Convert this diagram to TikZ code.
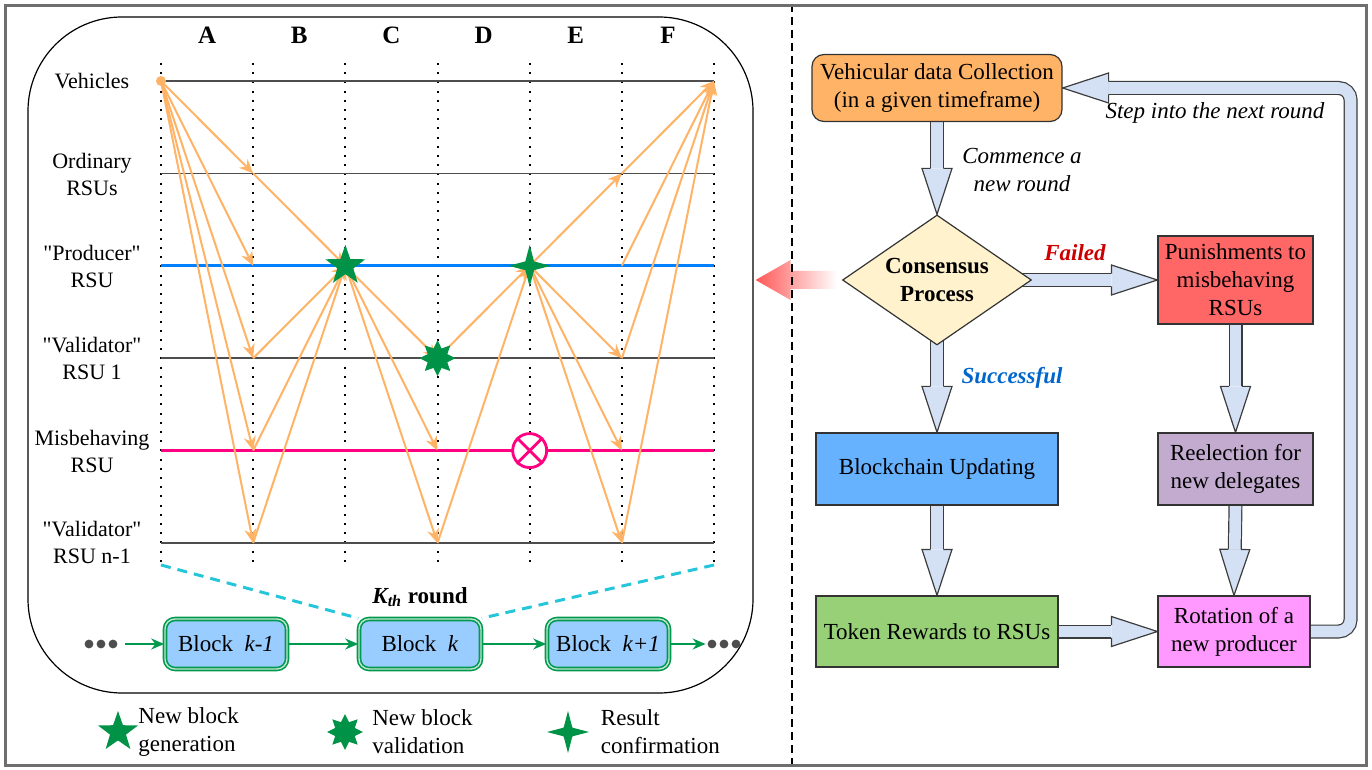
\documentclass[tikz,border=0pt]{standalone}
\usepackage{fontspec}
\setmainfont{Liberation Serif}
\usepackage{tikz}
\usetikzlibrary{positioning,arrows.meta,shapes.geometric,calc,backgrounds}
\definecolor{flowOrange}{RGB}{255,179,102}
\definecolor{starGreen}{RGB}{0,146,71}
\definecolor{prodBlue}{RGB}{0,127,255}
\definecolor{misMagenta}{RGB}{255,0,128}
\definecolor{gridGray}{RGB}{77,77,77}
\definecolor{blockFill}{RGB}{153,204,255}
\definecolor{blockGreen}{RGB}{0,153,77}
\definecolor{roundCyan}{RGB}{38,198,218}
\definecolor{dotGray}{RGB}{77,77,77}
\definecolor{fatFill}{RGB}{212,225,245}
\definecolor{fatLine}{RGB}{60,60,60}
\definecolor{collectOrange}{RGB}{255,179,102}
\definecolor{consYellow}{RGB}{255,242,204}
\definecolor{punRed}{RGB}{255,102,102}
\definecolor{updBlue}{RGB}{102,178,255}
\definecolor{reelPurple}{RGB}{195,171,208}
\definecolor{tokGreen}{RGB}{151,208,119}
\definecolor{rotPink}{RGB}{255,153,255}
\definecolor{failRed}{RGB}{204,0,0}
\definecolor{succBlue}{RGB}{0,102,204}
\definecolor{frameGray}{RGB}{110,110,110}

\newcommand{\fathead}[2]{%
  \filldraw[fill=fatFill, draw=fatLine, line width=0.6pt]
    ($(#1)!3.2pt!90:(#2)$) -- ($(#1)!7.5pt!90:(#2)$) -- (#2)
    -- ($(#1)!7.5pt!-90:(#2)$) -- ($(#1)!3.2pt!-90:(#2)$);
}
\newcommand{\fatarrow}[2]{%
  \coordinate (fa-h) at ($(#2)!23pt!(#1)$);
  \draw[line width=7pt, fatLine] (#1) -- (fa-h);
  \draw[line width=5.8pt, fatFill] (#1) -- (fa-h);
  \fathead{fa-h}{#2}
}

\begin{document}
\begin{tikzpicture}[x=0.5pt, y=-0.5pt,
    rowlab/.style={align=center, inner sep=0pt, font=\fontsize{11}{13.5}\selectfont},
    collab/.style={inner sep=0pt, font=\fontsize{12.5}{15}\selectfont\bfseries},
    colline/.style={line width=1pt, dash pattern=on 1pt off 3.6pt},
    rowline/.style={gridGray, line width=0.7pt},
    flow/.style={flowOrange, line width=1pt, -{Stealth[length=7pt,width=6pt]}},
    genstar/.style={star, star points=5, star point ratio=2.5, fill=starGreen,
                    minimum size=21pt, inner sep=0pt},
    valstar/.style={star, star points=8, star point ratio=1.7, fill=starGreen,
                    minimum size=18pt, inner sep=0pt},
    confstar/.style={star, star points=4, star point ratio=3.4, fill=starGreen,
                     minimum size=21pt, inner sep=0pt},
    block/.style={draw=blockGreen, double=blockGreen!25, double distance=0.7pt,
                  line width=0.8pt, fill=blockFill, rounded corners=5pt,
                  minimum width=61pt, minimum height=25pt,
                  font=\fontsize{11.5}{14}\selectfont},
    chain/.style={blockGreen, line width=0.9pt, -{Stealth[length=6.5pt,width=5.5pt]}},
    zoomline/.style={roundCyan, line width=1.5pt, dash pattern=on 5pt off 3.5pt},
    legtext/.style={align=left, inner sep=0pt, font=\fontsize{11.5}{14}\selectfont},
    flowbox/.style={draw=black!80, line width=0.6pt, align=center, inner sep=2pt,
                    font=\fontsize{11.5}{14}\selectfont},
    note/.style={align=center, inner sep=0pt, font=\fontsize{11.5}{14}\selectfont\itshape}
]
    \useasboundingbox (0,0) rectangle (1372,770);

    \node[draw, line width=0.6pt, rounded corners=47pt, minimum width=362.5pt,
          minimum height=338pt, inner sep=0pt] (panel) at (390.5,355) {};

    \foreach \i in {1,...,7} {
        \coordinate (col-\i-top) at ({161+92.17*(\i-1)},63);
        \coordinate (col-\i-bot) at ({161+92.17*(\i-1)},565);
        \draw[colline] (col-\i-top) -- (col-\i-bot);
        \foreach \j in {1,...,6}
            \coordinate (g-\i-\j) at ({161+92.17*(\i-1)},{81+92.4*(\j-1)});
    }
    \foreach \l [count=\i] in {A,...,F}
        \node[collab] (head-\l) at ({161+92.17*(\i-0.5)},35) {\l};

    \draw[rowline] (g-1-1) -- (g-7-1);
    \draw[rowline] (g-1-2) -- (g-7-2);
    \draw[prodBlue, line width=1.4pt] (g-1-3) -- (g-7-3);
    \draw[rowline] (g-1-4) -- (g-7-4);
    \draw[misMagenta, line width=1.4pt] (g-1-5) -- (g-7-5);
    \draw[rowline] (g-1-6) -- (g-7-6);

    \node[rowlab] (lab-veh) at (92,81) {Vehicles};
    \node[rowlab] (lab-ord) at (92,174) {Ordinary\\RSUs};
    \node[rowlab] (lab-prod) at (92,266) {\textquotedbl Producer\textquotedbl\\RSU};
    \node[rowlab] (lab-val) at (92,358) {\textquotedbl Validator\textquotedbl\\RSU 1};
    \node[rowlab] (lab-mis) at (92,451) {Misbehaving\\RSU};
    \node[rowlab] (lab-valn) at (92,542) {\textquotedbl Validator\textquotedbl\\RSU n-1};

    \foreach \a/\b in {1-1/2-2, 1-1/2-3, 1-1/2-4, 1-1/2-5, 1-1/2-6,
                       2-2/3-3, 2-4/3-3, 2-5/3-3, 2-6/3-3,
                       3-3/4-4, 3-3/4-5, 3-3/4-6,
                       4-4/5-3, 4-6/5-3,
                       5-3/6-2, 5-3/6-4, 5-3/6-5, 5-3/6-6,
                       6-2/7-1, 6-3/7-1, 6-4/7-1, 6-6/7-1}
        \draw[flow] (g-\a) -- (g-\b);

    \node[circle, fill=flowOrange, minimum size=5pt, inner sep=0pt] (veh) at (g-1-1) {};
    \node[genstar] (gen) at (g-3-3) {};
    \node[valstar] (val) at (g-4-4) {};
    \node[confstar] (conf) at (g-5-3) {};
    \node[circle, draw=misMagenta, line width=1.4pt, fill=white, minimum size=17pt,
          inner sep=0pt] (bad) at (g-5-5) {};
    \draw[misMagenta, line width=1.4pt] (bad.45) -- (bad.225) (bad.135) -- (bad.315);

    \node[block] (blk-prev) at (226,644) {Block\enspace\textit{k-1}};
    \node[block] (blk-cur) at (420,644) {Block\enspace\textit{k}};
    \node[block] (blk-next) at (608,644) {Block\enspace\textit{k+1}};
    \node[inner sep=0pt, minimum width=16pt, minimum height=5pt] (dots-l) at (101,644) {};
    \node[inner sep=0pt, minimum width=16pt, minimum height=5pt] (dots-r) at (724,644) {};
    \foreach \d in {-12,0,12} {
        \fill[dotGray] ($(dots-l)+(\d,0)$) circle (2.2pt);
        \fill[dotGray] ($(dots-r)+(\d,0)$) circle (2.2pt);
    }
    \draw[chain, shorten <=4pt] (dots-l) -- (blk-prev);
    \draw[chain] (blk-prev) -- (blk-cur);
    \draw[chain] (blk-cur) -- (blk-next);
    \draw[chain, shorten >=1pt] (blk-next) -- (dots-r);
    \node[font=\fontsize{11.5}{14}\selectfont\bfseries] (kth) at (420,597)
        {\textit{K\textsubscript{th}} round};
    \draw[zoomline] (col-1-bot) -- (blk-cur.north west);
    \draw[zoomline] (col-7-bot) -- (blk-cur.north east);

    \node[genstar] (leg-gen) at (118,732) {};
    \node[legtext, right=4pt of leg-gen] (leg-gen-t) {New block\\generation};
    \node[valstar] (leg-val) at (345,732) {};
    \node[legtext, right=4pt of leg-val] (leg-val-t) {New block\\validation};
    \node[confstar] (leg-conf) at (568,732) {};
    \node[legtext, right=5pt of leg-conf] (leg-conf-t) {Result\\confirmation};

    \node[flowbox, fill=collectOrange, rounded corners=6pt, minimum width=125pt,
          minimum height=33.5pt] (collect) at (937,88)
          {Vehicular data Collection\\(in a given timeframe)};
    \node[diamond, aspect=1.45, draw=black!80, line width=0.6pt, fill=consYellow,
          minimum width=94.5pt, minimum height=65pt, inner sep=0pt, align=center,
          font=\fontsize{11.5}{14}\selectfont\bfseries] (cons) at (937,280)
          {Consensus\\Process};
    \node[flowbox, fill=punRed, minimum width=77.5pt, minimum height=44pt] (pun)
          at (1235.5,280) {Punishments to\\misbehaving\\RSUs};
    \node[flowbox, fill=updBlue, minimum width=121pt, minimum height=36pt] (upd)
          at (937,469) {Blockchain Updating};
    \node[flowbox, fill=reelPurple, minimum width=77.5pt, minimum height=36pt] (reel)
          at (1235.5,469) {Reelection for\\new delegates};
    \node[flowbox, fill=tokGreen, minimum width=121pt, minimum height=35.5pt] (tok)
          at (937,631.5) {Token Rewards to RSUs};
    \node[flowbox, fill=rotPink, minimum width=76pt, minimum height=35.5pt] (rot)
          at (1234,631.5) {Rotation of a\\new producer};

    \begin{scope}[on background layer]
        \coordinate (cons-s) at ($(cons.south)+(0,-10)$);
        \coordinate (cons-e) at ($(cons.east)+(-12,0)$);
        \fatarrow{collect.south}{cons.north}
        \fatarrow{cons-e}{pun.west}
        \fatarrow{cons-s}{upd.north}
        \fatarrow{pun.south}{reel.north}
        \fatarrow{upd.south}{tok.north}
        \fatarrow{reel.south}{rot.north}
        \fatarrow{tok.east}{rot.west}
        \coordinate (loop-h) at ($(collect.east)+(46,0)$);
        \draw[line width=7pt, fatLine, rounded corners=6pt] (rot.east) -- ++(40,0) |- (loop-h);
        \draw[line width=5.8pt, fatFill, rounded corners=6pt] (rot.east) -- ++(40,0) |- (loop-h);
        \fathead{loop-h}{collect.east}
    \end{scope}

    \coordinate (glow-s) at ($(cons.west)+(-5,0)$);
    \coordinate (glow-t) at ($(glow-s -| panel.east)+(2,0)$);
    \shade[left color=punRed!85!red, middle color=punRed!70, right color=white]
        ($(glow-t)+(35,-9)$) -- ($(glow-s)+(0,-9)$) -- ($(glow-s)+(0,9)$)
        -- ($(glow-t)+(35,9)$) -- ($(glow-t)+(35,20)$) -- (glow-t)
        -- ($(glow-t)+(35,-20)$) -- cycle;

    \node[note] (commence) at (1022,170) {Commence a\\new round};
    \node[note] (next) at (1215,113) {Step into the next round};
    \node[note, font=\fontsize{11.5}{14}\selectfont\bfseries\itshape, text=failRed]
        (failed) at (1075,253) {Failed};
    \node[note, font=\fontsize{11.5}{14}\selectfont\bfseries\itshape, text=succBlue]
        (succ) at (1012,378) {Successful};

    \draw[line width=1pt, dash pattern=on 4pt off 2.5pt] (792,4) -- (792,768);
    \draw[frameGray, line width=1.5pt] (5.5,5.5) rectangle (1366.5,765.5);
\end{tikzpicture}
\end{document}
